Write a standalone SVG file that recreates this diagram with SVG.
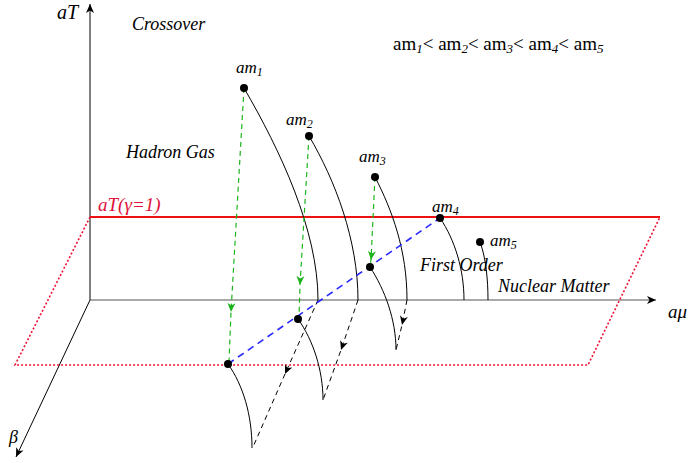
<svg xmlns="http://www.w3.org/2000/svg" width="689" height="463" viewBox="0 0 689 463">
<defs>
<marker id="ah" viewBox="-10 -5 12 10" markerWidth="12" markerHeight="10" refX="0" refY="0" orient="auto" markerUnits="userSpaceOnUse"><path d="M0,0 L-9,-4 L-6.5,0 L-9,4 Z" fill="#000"/></marker>
<marker id="ahg" viewBox="-10 -5 12 10" markerWidth="12" markerHeight="10" refX="0" refY="0" orient="auto" markerUnits="userSpaceOnUse"><path d="M0,0 L-9,-4 L-6.5,0 L-9,4 Z" fill="#1db31d"/></marker>
</defs>
<style>
text{font-family:"Liberation Serif","DejaVu Serif",serif;font-style:italic;font-size:17px;fill:#000}
.sub{font-size:12px;font-style:italic}
.ax{stroke:#000;stroke-width:1;fill:none}
.curve{stroke:#000;stroke-width:1;fill:none}
.dash{stroke:#000;stroke-width:1;fill:none;stroke-dasharray:5,4}
.green{stroke:#1db31d;stroke-width:1.2;fill:none;stroke-dasharray:5,4}
.blue{stroke:#2a2aff;stroke-width:1.6;fill:none;stroke-dasharray:7,5}
.rdot{stroke:#ee1133;stroke-width:1.6;fill:none;stroke-dasharray:2,2}
.dot{fill:#000}
</style>
<rect width="689" height="463" fill="#fff"/>
<g id="axes">
<path class="ax" d="M90,300 L90,4" marker-end="url(#ah)"/>
<path d="M90,300 L656,300" stroke="#555" stroke-width="1.2" fill="none" marker-end="url(#ah)"/>
<path class="ax" d="M90,300 L16,457" marker-end="url(#ah)"/>
<text x="57" y="19" style="font-size:20px">aT</text>
<text x="668" y="318" style="font-size:19px">aμ</text>
<text x="9" y="443" style="font-size:18px">β</text>
</g>
<g id="plane">
<path d="M90,217 L660,217" stroke="#ee1111" stroke-width="2.2"/>
<path class="rdot" d="M90,217 L15,365 L588,365 L660,217"/>
<text x="98" y="211" style="fill:#e0103a;font-size:19px">aT(γ=1)</text>
</g>
<g id="connectors">
<path class="curve" d="M244,88 C280,150 318,230 318,300"/>
<path class="curve" d="M309,136 C335,180 358,240 358,300"/>
<path class="curve" d="M375,177 C392,210 407,250 407,300"/>
<path class="curve" d="M440,218 C455,240 464,270 464,300"/>
<path class="curve" d="M480,242 C486,258 488,280 488,300"/>
<path class="curve" d="M228,364 C243,385 252,415 252,448"/>
<path class="curve" d="M298,319 C313,340 323,370 323,400"/>
<path class="curve" d="M370,267 C385,290 396,320 396,350"/>
<path class="dash" d="M318,300 L285,374 L253,447" marker-mid="url(#ah)"/>
<path class="dash" d="M358,300 L341,350 L323,400" marker-mid="url(#ah)"/>
<path class="dash" d="M407,300 L402,325 L396,350" marker-mid="url(#ah)"/>
<path class="green" d="M244,88 L231,312 L229,362" marker-mid="url(#ahg)"/>
<path class="green" d="M309,136 L300,285 L299,318" marker-mid="url(#ahg)"/>
<path class="green" d="M375,177 L371,260 L370,266" marker-mid="url(#ahg)"/>
<path class="blue" d="M228,364 L440,218"/>
</g>
<g id="am1"><circle class="dot" cx="244" cy="88" r="4"/><text x="236" y="73">am<tspan class="sub" dy="3">1</tspan></text></g>
<g id="am2"><circle class="dot" cx="309" cy="136" r="4"/><text x="286" y="125">am<tspan class="sub" dy="3">2</tspan></text></g>
<g id="am3"><circle class="dot" cx="375" cy="177" r="4"/><text x="359" y="162">am<tspan class="sub" dy="3">3</tspan></text></g>
<g id="am4"><circle class="dot" cx="440" cy="218" r="4"/><text x="432" y="212">am<tspan class="sub" dy="3">4</tspan></text></g>
<g id="am5"><circle class="dot" cx="480" cy="242" r="4"/><text x="490" y="246">am<tspan class="sub" dy="3">5</tspan></text></g>
<g id="p1"><circle class="dot" cx="228" cy="364" r="4"/></g>
<g id="p2"><circle class="dot" cx="298" cy="319" r="4"/></g>
<g id="p3"><circle class="dot" cx="370" cy="267" r="4"/></g>
<g id="labels">
<text x="132" y="30" style="font-size:18px">Crossover</text>
<text x="126" y="158" style="font-size:18px">Hadron Gas</text>
<text x="420" y="271" style="font-size:18px">First Order</text>
<text x="498" y="292" style="font-size:18px">Nuclear Matter</text>
<text x="393" y="50" style="font-style:normal;font-size:19px">am<tspan class="sub" style="font-size:13px" dy="3">1</tspan><tspan dy="-3">&lt; am</tspan><tspan class="sub" style="font-size:13px" dy="3">2</tspan><tspan dy="-3">&lt; am</tspan><tspan class="sub" style="font-size:13px" dy="3">3</tspan><tspan dy="-3">&lt; am</tspan><tspan class="sub" style="font-size:13px" dy="3">4</tspan><tspan dy="-3">&lt; am</tspan><tspan class="sub" style="font-size:13px" dy="3">5</tspan></text>
</g>
</svg>
